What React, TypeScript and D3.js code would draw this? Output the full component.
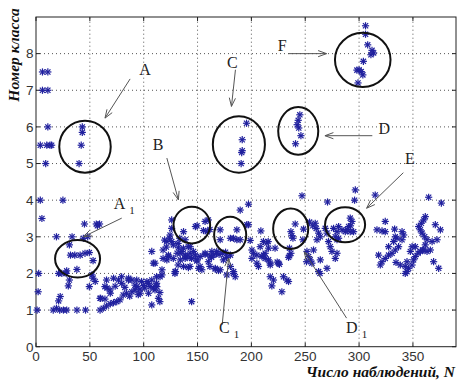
import React from 'react';
import * as d3 from 'd3';

// Номер класса vs Число наблюдений — точки (N, класс), по областям графика
const topLeftPts = [
  [6, 7.5], [11, 7.5], [6, 7], [11, 7], [11, 6], [4, 5.5], [10, 5.5], [13, 5.5], [14.5, 5.5], [9, 5],
];
const clusterA = [[43, 6], [43, 5.85], [42, 5.5], [40, 5]];
const clusterC = [[195.5, 6.1], [191.5, 5.65], [191.5, 5.35], [191, 5.3], [190.5, 5.0]];
const clusterD = [[245, 6.33], [243.5, 6.18], [242.5, 6.06], [244, 5.97], [246, 5.76], [241, 5.54]];
const clusterF = [
  [306, 8.76], [306, 8.53], [308, 8.24], [312, 8.09], [311, 7.97], [313.5, 8.02], [304, 7.79],
  [300, 7.56], [302, 7.51], [298, 7.55], [303.5, 7.42], [299, 7.2],
];
const lowLeftPts = [
  [4, 4], [25, 4], [5.5, 3.5], [45, 3.35], [56, 3.35], [59, 3.35], [57, 3.3], [19, 3], [33.5, 3],
  [44, 2.96], [48, 3], [31, 2.78], [32, 2.5], [36, 2.5], [41, 2.5], [45.5, 2.55], [49.5, 2.57],
  [53, 2.35], [38, 2.11], [28.5, 2.07], [2.5, 2], [21, 2], [24, 2], [28, 2], [52, 1.96], [53, 1.87],
  [55, 1.78], [31, 1.82], [30, 1.66], [49.5, 1.64], [2, 1.5], [22.5, 1.37], [21, 1.25], [60, 1.32],
  [1, 1], [16, 1], [19, 1.05], [22, 1], [25.5, 1], [28.5, 1], [38, 1], [46, 1],
];
const bandPts = [
  [59.5, 1.0], [62.5, 1.05], [65.5, 1.11], [69, 1.17], [72, 1.2], [75, 1.23], [78, 1.28], [81, 1.41],
  [84, 1.46], [89, 1.5], [92, 1.55], [96.5, 1.57], [101, 1.6], [106, 1.64], [110.5, 1.55], [115, 1.48],
  [59.5, 1.32], [64, 1.3], [65.5, 1.82], [72, 1.87], [76.5, 1.82], [79.5, 1.91], [86, 1.87], [89, 1.82],
  [93.5, 1.82], [98, 1.78], [103, 1.78], [107.5, 1.82], [112, 1.91], [117, 1.96], [66, 1.6],
  [73.5, 1.65], [82.5, 1.62], [92, 1.68], [100, 1.67], [109, 1.6], [69, 1.46], [115, 1.23],
  [107.5, 1.14], [144.5, 1.23], [104.5, 1.46], [112, 1.73], [87, 1.38], [95, 1.42],
  [64, 1.64], [68.8, 1.55], [79.6, 1.73], [85.8, 1.82], [93.6, 1.64], [96.7, 1.46], [104.4, 1.73],
  [112.2, 1.64], [115.2, 1.91], [113.7, 1.32],
];
const midPts = [
  [126, 3.46], [126, 3.23], [137, 3.14], [148, 3.28], [149.5, 3.3], [157, 3.42], [160, 3.46],
  [155.5, 3.17], [159, 3.14], [161.5, 3.2], [124, 2.96], [133.5, 2.96], [138.5, 2.92], [127.5, 2.78],
  [132, 2.82], [141.5, 2.73], [121.5, 2.87], [121, 2.72], [118, 2.64], [131, 2.55], [135.5, 2.6],
  [138.5, 2.5], [143, 2.55], [148, 2.5], [152.5, 2.46], [157, 2.55], [161.5, 2.48], [165, 2.5],
  [167.5, 2.55], [163, 2.44], [107.5, 2.6], [118, 2.41], [123, 2.46], [127.5, 2.41], [134, 2.37],
  [138.5, 2.41], [144.5, 2.41], [149.5, 2.37], [110.5, 2.28], [132, 2.23], [137, 2.19], [143, 2.19],
  [151, 2.14], [154, 2.1], [129, 2.0], [129.5, 2.05], [161.5, 2.19], [166.5, 2.14], [171, 2.1],
  [174, 2.37], [177, 2.44], [180.5, 2.5], [117, 2.1], [109, 2.28], [119.5, 2.91], [170, 2.52],
  [173, 2.55], [176, 2.58],
  [121.5, 2.37], [123, 2.5], [126, 2.87], [124.5, 3.05], [132.2, 2.7], [133.8, 2.55], [139, 2.47],
  [143, 2.44], [146.2, 2.6], [149.3, 2.34], [141.5, 2.16], [152.4, 2.19], [129.2, 2.05], [136.9, 2.69],
  [143.1, 2.73], [157, 2.52], [160.1, 2.32], [163.3, 2.6], [167.9, 2.6], [166.4, 2.12], [169.4, 2.08],
  [177.2, 1.96], [183.4, 2.0], [195.8, 3.33],
];
const clusterC1 = [
  [171, 3.19], [171, 2.92], [180.5, 2.96], [186.5, 3.19], [186.5, 2.92], [180.5, 2.19], [183.5, 2.05],
  [185, 1.91],
];
const centerPts = [
  [197.3, 3.89], [189.6, 3.73], [247, 4.12], [270.7, 3.95], [197.3, 3.33], [183.4, 2.96], [189.6, 2.92],
  [208.8, 3.16], [222, 2.69], [235.4, 2.69], [198.9, 2.9], [200.5, 2.64], [201.9, 2.55], [205.1, 2.5],
  [209.8, 2.46], [211.2, 2.5], [212.8, 2.55], [214.4, 2.83], [211.2, 2.87], [208.2, 2.73],
  [215.9, 2.69], [200.5, 2.41], [205.1, 2.28], [206.6, 2.19], [212.8, 2.41], [215.9, 2.37],
  [217.5, 2.28], [225.2, 2.28], [224, 2.31], [226, 2.25], [217.5, 1.91], [219, 1.66], [220.5, 1.82],
  [229.8, 1.91], [233, 1.82], [234.5, 1.78], [228.3, 1.5], [234.5, 2.44], [235.4, 2.48],
  [236.7, 2.55], [251.6, 2.6], [253.1, 2.46], [254.6, 2.37], [256.2, 2.28], [264, 2.37],
  [270.2, 2.14], [262.4, 2.05], [257.7, 2.64], [259.3, 3.37], [260.2, 3.23], [262.4, 3.1],
  [260.9, 2.92], [264, 3.0], [268.6, 3.23], [270.2, 3.1], [271.6, 2.87], [273.2, 2.73], [274.8, 2.6],
  [279.5, 2.92], [279.5, 2.55], [276.3, 3.23], [215.6, 2.87], [263.7, 2.0], [251.2, 2.32],
  [254, 3.4], [257, 3.3], [217.5, 2.23],
];
const clusterD1 = [[240.7, 3.35], [236.7, 3.14], [237.6, 3.03], [238.6, 2.96], [248.4, 3.21], [247.8, 2.92]];
const clusterE = [
  [291.8, 3.51], [293.4, 3.42], [290.3, 3.28], [287.2, 3.14], [284.1, 3.19], [281, 3.28], [279.5, 3.14],
  [291.8, 3.14], [294.9, 3.14], [281, 2.96], [277.9, 3.0], [289, 3.2], [292, 3.3],
];
const rightPts = [
  [296.5, 4.28], [295.8, 4.0], [315, 4.14], [364.6, 4.08], [376.4, 3.92], [277.9, 2.41],
  [324.3, 3.42], [316.6, 3.19], [321.3, 3.16], [324.3, 3.14], [333, 3.21], [333.6, 3.0], [339.9, 3.14],
  [341.4, 3.05], [339.9, 2.92], [332.1, 2.87], [335.2, 2.96], [336.7, 2.73], [333.6, 2.64],
  [330.6, 2.55], [327.4, 2.73], [327.4, 2.5], [324.3, 2.41], [321.3, 2.32], [319.7, 2.23], [318.1, 2.5],
  [334.3, 2.3], [338.3, 2.23], [342.9, 2.19], [344.5, 2.32],
  [361.5, 3.55], [360, 3.46], [357.8, 3.37], [355.3, 3.28], [356.9, 3.19], [358.5, 3.1], [360.9, 3.0],
  [363.1, 2.92], [361.5, 2.78], [359, 2.64], [356.9, 2.6], [354.7, 2.55], [352.2, 2.46], [350.6, 2.37],
  [349.2, 2.23], [346, 2.14], [344.5, 2.05], [342.9, 2.0],
  [370.8, 3.33], [375.5, 3.19], [372.4, 2.92], [367.8, 2.87], [366.2, 2.64], [363.1, 2.6], [360, 2.64],
  [352.2, 2.73], [349.2, 2.73], [347.6, 2.6], [369.2, 2.32], [373.9, 2.14],
];

const allPts = [
  ...topLeftPts, ...clusterA, ...clusterC, ...clusterD, ...clusterF, ...lowLeftPts, ...bandPts,
  ...midPts, ...clusterC1, ...centerPts, ...clusterD1, ...clusterE, ...rightPts,
];

const xTicks = [0, 50, 100, 150, 200, 250, 300, 350];
const yTicks = [0, 1, 2, 3, 4, 5, 6, 7, 8];

// circles: center N, center class, half-width (N), half-height (class)
const rings = [
  [45.5, 5.46, 23.9, 0.71], [144.7, 3.32, 17, 0.5], [188.4, 5.52, 24.2, 0.77], [243.5, 5.89, 18.6, 0.65],
  [303.4, 7.83, 25.8, 0.74], [38.6, 2.4, 20.9, 0.51], [180.3, 3.05, 14.9, 0.5], [236.5, 3.22, 16.3, 0.55],
  [287, 3.33, 18.6, 0.48],
];
// label, sub, label pos, arrow start, arrow tip (data coords)
const notes = [
  { t: 'A', s: '', at: [101.3, 7.56], from: [87.4, 7.31], to: [64.1, 6.24] },
  { t: 'B', s: '', at: [113.4, 5.51], from: [121.5, 5.15], to: [132.2, 4.01] },
  { t: 'C', s: '', at: [182.2, 7.75], from: [185.2, 7.56], to: [181.5, 6.56] },
  { t: 'D', s: '', at: [323.4, 5.97], from: [312.3, 5.76], to: [268.3, 5.76] },
  { t: 'E', s: '', at: [347.3, 5.15], from: [341.1, 4.75], to: [307, 3.78] },
  { t: 'F', s: '', at: [228.6, 8.22], from: [234.2, 8.0], to: [269.8, 8.0] },
  { t: 'A', s: '1', at: [82, 3.9], from: [79.6, 3.51], to: [44, 3.0] },
  { t: 'C', s: '1', at: [179.4, 0.525], from: [172.9, 0.6], to: [178.9, 2.42] },
  { t: 'D', s: '1', at: [297.7, 0.525], from: [288.4, 0.78], to: [249.1, 2.59] },
];

export default function App() {
  const width = 457;
  const height = 383;
  const x = d3.scaleLinear().domain([0, 390]).range([36, 456]);
  const y = d3.scaleLinear().domain([0, 9]).range([346.7, 17]);
  const starColor = '#20209e';

  const star = (px, py, i) => (
    <g key={i} transform={`translate(${px},${py})`} stroke={starColor} strokeWidth={1.2}>
      <line x1={-3.6} y1={0} x2={3.6} y2={0} />
      <line x1={0} y1={-3.6} x2={0} y2={3.6} />
      <line x1={-2.6} y1={-2.6} x2={2.6} y2={2.6} />
      <line x1={-2.6} y1={2.6} x2={2.6} y2={-2.6} />
    </g>
  );

  const arrow = (n, i) => {
    const x1 = x(n.from[0]), y1 = y(n.from[1]);
    const x2 = x(n.to[0]), y2 = y(n.to[1]);
    const a = Math.atan2(y1 - y2, x1 - x2);
    const L = 9, w = 0.35;
    return (
      <g key={'ar' + i} stroke="#555" strokeWidth={1} fill="none">
        <line x1={x1} y1={y1} x2={x2} y2={y2} />
        <polyline
          points={`${x2 + L * Math.cos(a + w)},${y2 + L * Math.sin(a + w)} ${x2},${y2} ${x2 + L * Math.cos(a - w)},${y2 + L * Math.sin(a - w)}`}
        />
      </g>
    );
  };

  const x0 = x.range()[0], x1 = x.range()[1];
  const y0 = y.range()[0], y1 = y.range()[1];

  return (
    <svg width={width} height={height} style={{ position: 'absolute', left: 0, top: 0, background: '#fff' }}>
      <rect width={width} height={height} fill="#fff" />
      {/* grid */}
      <g stroke="#555" strokeWidth={1} strokeDasharray="1,3">
        {xTicks.filter(t => t > 0).map(t => (
          <line key={'gx' + t} x1={x(t)} x2={x(t)} y1={y0} y2={y1} />
        ))}
        {yTicks.filter(t => t > 0).map(t => (
          <line key={'gy' + t} x1={x0} x2={x1} y1={y(t)} y2={y(t)} />
        ))}
      </g>
      {/* box + ticks */}
      <rect x={x0} y={y1} width={x1 - x0} height={y0 - y1} fill="none" stroke="#222" strokeWidth={1} />
      <g stroke="#222" strokeWidth={1}>
        {xTicks.map(t => (
          <g key={'tx' + t}>
            <line x1={x(t)} x2={x(t)} y1={y0} y2={y0 - 4} />
            <line x1={x(t)} x2={x(t)} y1={y1} y2={y1 + 4} />
          </g>
        ))}
        {yTicks.map(t => (
          <g key={'ty' + t}>
            <line x1={x0} x2={x0 + 4} y1={y(t)} y2={y(t)} />
            <line x1={x1} x2={x1 - 4} y1={y(t)} y2={y(t)} />
          </g>
        ))}
      </g>
      <g fontFamily="'Liberation Sans', Arial, sans-serif" fontSize={13.5} fill="#333">
        {xTicks.map(t => (
          <text key={'lx' + t} x={x(t)} y={361} textAnchor="middle">{t}</text>
        ))}
        {yTicks.map(t => (
          <text key={'ly' + t} x={33.5} y={y(t)} dy="0.36em" textAnchor="end">{t}</text>
        ))}
      </g>
      {/* points */}
      <g>{allPts.map((p, i) => star(x(p[0]), y(p[1]), i))}</g>
      {/* circles */}
      <g fill="none" stroke="#111" strokeWidth={2}>
        {rings.map((r, i) => (
          <ellipse key={'r' + i} cx={x(r[0])} cy={y(r[1])} rx={x(r[2]) - x(0)} ry={y(0) - y(r[3])} />
        ))}
      </g>
      {/* annotations */}
      {notes.map(arrow)}
      <g fontFamily="'Liberation Serif', 'Times New Roman', serif" fill="#222">
        {notes.map((n, i) => (
          <text key={'nt' + i} x={x(n.at[0])} y={y(n.at[1])} dy="0.35em" textAnchor="middle" fontSize={16}>
            {n.t}
            {n.s && <tspan fontSize={11} dx={4} dy={5}>{n.s}</tspan>}
          </text>
        ))}
      </g>
      {/* axis titles */}
      <text
        transform="translate(19,55) rotate(-90)"
        textAnchor="middle"
        fontFamily="'Liberation Serif', 'Times New Roman', serif"
        fontWeight="bold"
        fontStyle="italic"
        fontSize={15.5}
        fill="#111"
      >
        Номер класса
      </text>
      <text
        x={455}
        y={377}
        textAnchor="end"
        fontFamily="'Liberation Serif', 'Times New Roman', serif"
        fontWeight="bold"
        fontStyle="italic"
        fontSize={15.5}
        fill="#111"
      >
        Число наблюдений, N
      </text>
    </svg>
  );
}
